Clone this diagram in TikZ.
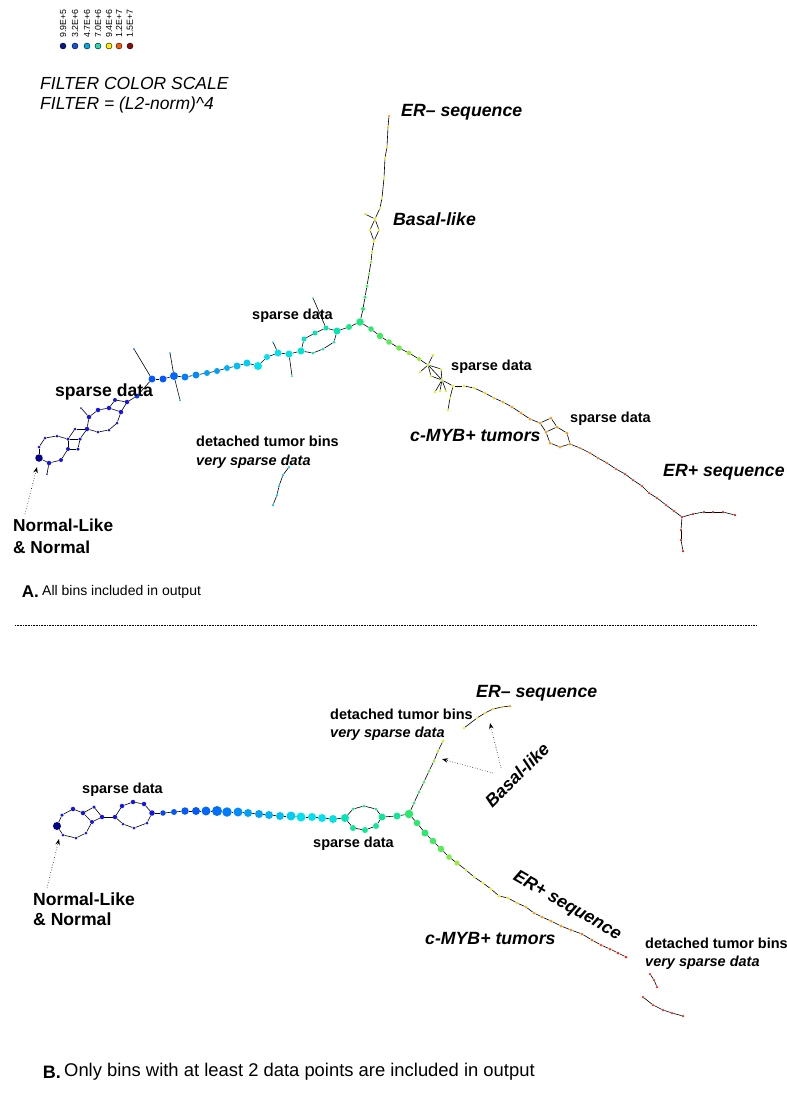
\documentclass[tikz,border=0pt]{standalone}
\usepackage{fontspec}
\setmainfont{Liberation Sans}
\usetikzlibrary{arrows.meta,positioning}

% colour scale (jet-like)
\definecolor{key1}{RGB}{10,20,140}
\definecolor{key2}{RGB}{20,80,230}
\definecolor{key3}{RGB}{0,170,230}
\definecolor{key4}{RGB}{40,220,170}
\definecolor{key5}{RGB}{255,240,0}
\definecolor{key6}{RGB}{250,90,10}
\definecolor{key7}{RGB}{140,10,10}
\definecolor{cdark}{RGB}{0,0,140}
\definecolor{cblue}{RGB}{20,20,235}
\definecolor{cazure}{RGB}{0,90,255}
\definecolor{csky}{RGB}{0,160,250}
\definecolor{ccyan}{RGB}{0,225,240}
\definecolor{cturq}{RGB}{0,230,180}
\definecolor{cgreen}{RGB}{40,235,110}
\definecolor{clime}{RGB}{150,240,40}
\definecolor{cyel}{RGB}{240,240,0}
\definecolor{corange}{RGB}{255,150,0}
\definecolor{cred}{RGB}{240,40,20}
\definecolor{cmaroon}{RGB}{150,10,10}

\pgfdeclarelayer{edges}
\pgfsetlayers{edges,main}

\begin{document}
\begin{tikzpicture}[x=1pt, y=-1pt,
    bin/.style={circle, inner sep=0pt, minimum size=#1pt},
    bin/.default=3,
    key/.style={circle, draw=black, line width=0.4pt, inner sep=0pt, minimum size=6pt},
    edge/.style={line width=0.6pt, black},
    pointer/.style={dotted, line width=0.6pt, -{Stealth[length=6pt, width=4.5pt]}},
    lbl/.style={font=\fontsize{14.5}{18}\selectfont\bfseries, inner sep=0pt, anchor=west},
    biglbl/.style={font=\fontsize{17.5}{21}\selectfont\bfseries, inner sep=0pt, anchor=west},
    tag/.style={font=\fontsize{17.7}{21}\selectfont\bfseries\itshape, inner sep=0pt, anchor=west},
    caption/.style={font=\fontsize{14}{17}\selectfont, inner sep=0pt, anchor=west}
]
\useasboundingbox (0,0) rectangle (787,1101);

% Legend: filter colour scale
\foreach \px/\cl/\val [count=\i] in {63/key1/9.9E+5, 75/key2/3.2E+6, 87/key3/4.7E+6, 98/key4/7.0E+6, 109/key5/9.4E+6, 119/key6/1.2E+7, 130/key7/1.5E+7}{
  \node[key, fill=\cl] (k\i) at (\px,46) {};
  \node[rotate=90, anchor=west, inner sep=0pt, font=\fontsize{8.8}{10}\selectfont] (v\i) at (\px,38) {\val};
}
\node[font=\fontsize{17.5}{20}\selectfont\itshape, align=left, anchor=west, inner sep=0pt] (title) at (40,95)
  {FILTER COLOR SCALE\\FILTER = (L2-norm)\textasciicircum 4};

% ================= Panel A =================
% ER- branch (top to junction)
\foreach \px/\py/\sz/\cl [count=\i] in {389/116/2.5/corange, 388/127/2.5/corange!50!cyel, 387/147/2.5/cyel!70!corange,
    385/158/2.5/cyel, 384/178/2.5/cyel, 382/198/2.5/cyel, 380/208/2.5/cyel, 375/219/3/cyel, 374/241/3/cyel,
    372/252/3/cyel!60!clime, 371/262/3/clime, 369/274/3/clime!60!cgreen, 367/286/3.5/cgreen!70!clime,
    365/297/3.5/cgreen, 363/309/4/cgreen}
  \node[bin=\sz, fill=\cl] (ea\i) at (\px,\py) {};
\node[bin=2.5, fill=cyel] (eas) at (365,214) {};
\node[bin=2.5, fill=cyel] (eal) at (370,230) {};
\node[bin=2.5, fill=cyel] (ear) at (379,230) {};
\node[bin=7.5, fill=cgreen!70!cturq] (ja) at (360,322) {};

% left arm (junction to Normal-like)
\foreach \px/\py/\sz/\cl [count=\i] in {349/327/6/cgreen!60!cturq, 337/331/7/cturq, 326/328/5/cturq, 315/333/5/cturq,
    304/339/5/cturq!70!ccyan, 301/351/7/cturq!50!ccyan, 289/354/7/ccyan!80!cturq, 278/353/7/ccyan, 267/357/6/ccyan,
    258/366/8/ccyan, 247/363/7/ccyan!70!csky, 237/366/7/ccyan!50!csky, 227/368/6/csky!70!ccyan, 217/371/6/csky,
    207/373/6/csky, 196/375/7/csky!70!cazure, 185/377/7/csky!50!cazure, 174/376/8/cazure!80!csky, 163/379/7/cazure,
    152/379/7/cazure, 137/396/5/cazure!60!cblue, 127/402/4.5/cblue, 121/412/4.5/cblue}
  \node[bin=\sz, fill=\cl] (la\i) at (\px,\py) {};
\foreach \nm/\px/\py/\sz/\cl in {lo1/334/342/3/cturq, lo2/323/349/3/cturq, lo3/313/353/3/cturq,
    s1/313/298/2/cturq, s2/292/376/2/ccyan, s3/273/342/2/ccyan, s4/170/353/2/csky, s5/180/400/2/csky, s6/134/349/2/cazure,
    q1/115/400/4/cblue, q4/109/408/4.5/cblue, u1/98/410/4.5/cblue, u2/89/417/4.5/cblue, u2s/81/408/2/cblue,
    u3/87/429/4.5/cblue, u4/98/432/3/cblue, u5/109/430/3/cblue, u6/117/423/3/cblue,
    v1/75/429/3/cblue, sa/68/439/3.5/cblue, sb/80/439/3.5/cblue, sc/78/449/3.5/cblue, sd/68/449/4/cblue,
    w1/57/436/3/cblue, w2/45/438/3/cblue, w3/39/447/3/cblue, na/39/458/7.5/cdark, w4/49/463/4.5/cblue,
    w5/61/460/4/cblue, w4s/47/474/2/cblue}
  \node[bin=\sz, fill=\cl] (\nm) at (\px,\py) {};

% right arm (junction to ER+)
\foreach \px/\py/\sz/\cl [count=\i] in {371/329/5.5/cgreen, 380/336/6.5/cgreen!80!clime, 389/342/5.5/cgreen!60!clime,
    399/348/5.5/cgreen!40!clime, 409/353/4.5/clime, 419/359/4/clime, 428/365/3/clime!60!cyel, 442/380/3/cyel!70!clime,
    453/386/3/cyel, 464/386/3/cyel, 474/388/3/cyel, 485/393/3/cyel!70!corange, 494/398/3/cyel!50!corange,
    503/402/3/corange!70!cyel, 512/407/3/corange, 521/413/3/corange, 530/419/3/corange}
  \node[bin=\sz, fill=\cl] (ra\i) at (\px,\py) {};
\foreach \nm/\px/\py in {rdl/431/376, rdr/441/369, rx1/433/355, rx2/420/372, rx3/435/392, rx4/440/391, rx5/446/391,
    rs1/450/398, rs2/448/410}
  \node[bin=2.5, fill=cyel!80!clime] (\nm) at (\px,\py) {};
\foreach \nm/\px/\py in {h1/540/423, h2/551/418, h3/557/427, h4/546/432, h5/550/443, h6/560/447, h7/570/444, h8/567/433}
  \node[bin=3, fill=corange] (\nm) at (\px,\py) {};
\foreach \px/\py/\cl [count=\i] in {580/448/corange!70!cred, 590/453/corange!60!cred, 598/458/corange!50!cred,
    607/463/cred!60!corange, 616/469/cred!70!corange, 625/474/cred, 633/480/cred, 642/486/cred, 649/493/cred,
    657/498/cred, 666/505/cred, 674/511/cred, 682/517/cred!70!cmaroon}
  \node[bin=2.5, fill=\cl] (ta\i) at (\px,\py) {};
\foreach \nm/\px/\py in {k1/693/514, k2/704/512, k3/713/512, k4/723/512, k5/735/515, m1/681/530, m2/681/540, m3/683/551}
  \node[bin=2.5, fill=cred!60!cmaroon] (\nm) at (\px,\py) {};

% detached tumor bins
\foreach \px/\py [count=\i] in {289/467, 283/475, 279/486, 277/495, 273/505}
  \node[bin=2.5, fill=csky!50!ccyan] (da\i) at (\px,\py) {};

% connectors A
\begin{pgfonlayer}{edges}
\foreach \i in {1,2,3,4,5,6,7,9,10,11,12,13,14}{
  \pgfmathtruncatemacro{\j}{\i+1}
  \draw[edge] (ea\i) -- (ea\j);
}
\foreach \i in {1,...,22}{
  \pgfmathtruncatemacro{\j}{\i+1}
  \draw[edge] (la\i) -- (la\j);
}
\foreach \i in {1,...,16}{
  \pgfmathtruncatemacro{\j}{\i+1}
  \draw[edge] (ra\i) -- (ra\j);
}
\foreach \i in {1,...,12}{
  \pgfmathtruncatemacro{\j}{\i+1}
  \draw[edge] (ta\i) -- (ta\j);
}
\foreach \i in {1,...,4}{
  \pgfmathtruncatemacro{\j}{\i+1}
  \draw[edge] (da\i) -- (da\j);
}
\foreach \a/\b in {ea8/eas, ea8/eal, eal/ea9, ea8/ear, ear/ea9, ea15/ja, ja/la1, ja/ra1,
    la2/lo1, lo1/lo2, lo2/lo3, lo3/la6, la3/s1, la7/s2, la8/s3, la18/s4, la18/s5, la20/s6,
    la22/q1, q1/q4, la23/q4, q4/u1, u1/u2, u2/u3, u3/u4, u4/u5, u5/u6, u6/la23, u2/u2s,
    u3/v1, v1/sa, u3/sb, sa/sb, sb/sc, sc/sd, sd/sa, sa/w1, w1/w2, w2/w3, w3/na, na/w4, w4/w5, w5/sd, w4/w4s,
    ra7/rdl, rdl/ra8, ra7/rdr, rdr/ra8, ra7/rx1, ra7/rx2, ra8/rx3, ra8/rx4, ra8/rx5, ra9/rs1, rs1/rs2,
    ra17/h1, h1/h2, h2/h3, h3/h4, h4/h1, h4/h5, h5/h6, h6/h7, h7/h8, h8/h3, h7/ta1,
    ta13/k1, k1/k2, k2/k3, k3/k4, k4/k5, ta13/m1, m1/m2, m2/m3}
  \draw[edge] (\a) -- (\b);
\end{pgfonlayer}

% labels A
\node[tag] (erminA) at (401,112) {ER– sequence};
\node[tag] (basalA) at (393,219) {Basal-like};
\node[lbl] (sparseA1) at (252,316) {sparse data};
\node[biglbl, font=\fontsize{17.6}{21}\selectfont\bfseries] (sparseA2) at (55,392) {sparse data};
\node[lbl, align=left, font=\fontsize{14.5}{19}\selectfont\bfseries] (detA) at (196,452.5)
  {detached tumor bins\\\itshape very sparse data};
\node[biglbl, align=left, font=\fontsize{17.3}{22}\selectfont\bfseries] (normA) at (13,536) {Normal-Like\\\& Normal};
\node[lbl] (sparseA3) at (451,367) {sparse data};
\node[lbl] (sparseA4) at (570,419) {sparse data};
\node[tag] (mybA) at (410,435) {c-MYB+ tumors};
\node[tag] (erplA) at (663,472) {ER+ sequence};
\coordinate (normAt) at (25,514);
\coordinate (normAh) at (37,467);
\draw[pointer] (normAt) -- (normAh);

\node[caption] (capA) at (42,592) {All bins included in output};
\node[inner sep=0pt, anchor=east, font=\fontsize{17}{20}\selectfont\bfseries] (capAl) at (capA.west) {A.\,};

% separator
\coordinate (sepL) at (15,625);
\coordinate (sepR) at (757,625);
\draw[line width=0.8pt, dash pattern=on 0.8pt off 0.8pt] (sepL) -- (sepR);

% ================= Panel B =================
\node[bin=8, fill=cdark] (nb) at (57,826) {};
\foreach \nm/\px/\py/\sz in {p1/62/815/3.5, p2/73/809/4.5, p3/83/813/4.5, p4/92/822/4, p5/86/833/3, p6/76/838/3,
    p7/63/835/3, p8/94/807/3.5, p9/102/817/4.5, bl/115/817/4.5, r1/122/806/4.5, r2/133/802/4.5, r3/144/804/4.5,
    br/152/813/5.5, r4/147/823/3, r5/134/828/3, r6/123/824/3}
  \node[bin=\sz, fill=cblue] (\nm) at (\px,\py) {};

% main chain
\foreach \px/\py/\sz/\cl [count=\i] in {163/813/5.5/cazure!70!cblue, 174/812/6/cazure, 185/811/7.5/cazure,
    196/811/8/cazure, 206/811/9/cazure!80!csky, 217/811/10/cazure!70!csky, 227/812/9.5/cazure!50!csky,
    238/812/9/csky!70!cazure, 248/813/8/csky, 259/814/8/csky, 269/815/8/csky!70!ccyan, 280/816/8/csky!50!ccyan,
    291/816/9/ccyan!70!csky, 301/817/9/ccyan, 312/817/8/ccyan, 322/818/8/ccyan, 333/819/8/ccyan!70!cturq,
    345/818/8/cturq}
  \node[bin=\sz, fill=\cl] (cb\i) at (\px,\py) {};
\foreach \nm/\px/\py/\sz in {o1/353/809/3, o2/364/806/3, o3/376/809/3, lr/382/817/7, o4/376/826/6,
    o5/365/830/6, o6/353/828/6, g1/397/816/7}
  \node[bin=\sz, fill=cturq!60!cgreen] (\nm) at (\px,\py) {};
\node[bin=8.5, fill=cgreen] (jb) at (409,814) {};

% upper arm
\foreach \px/\py/\cl [count=\i] in {414/803/cgreen, 419/792/cgreen, 424/782/cgreen!70!clime, 429/771/cgreen!50!clime,
    434/761/clime, 438/751/clime!70!cyel, 443/741/cyel!80!clime}
  \node[bin=3, fill=\cl] (ub\i) at (\px,\py) {};
\foreach \px/\py/\cl [count=\i] in {464/728/cyel, 477/718/cyel, 485/713/cyel!70!corange, 493/709/cyel!60!corange,
    502/707/corange!70!cyel, 510/706/corange}
  \node[bin=2.5, fill=\cl] (er\i) at (\px,\py) {};

% lower arm
\foreach \px/\py/\sz/\cl [count=\i] in {417/823/6.5/cgreen, 425/833/7/cgreen, 433/841/6.5/cgreen!80!clime,
    441/849/6.5/cgreen!60!clime, 449/857/5.5/clime!70!cgreen, 457/863/5/clime, 466/870/3/clime!60!cyel,
    474/877/3/cyel!70!clime, 483/883/3/cyel, 491/889/3/cyel, 499/896/3/cyel, 508/898/3/cyel!80!corange,
    517/903/3/cyel!60!corange, 526/907/3/corange!70!cyel, 534/913/3/corange, 542/917/3/corange,
    551/921/3/corange, 561/926/3/corange, 571/930/3/corange!80!cred, 582/934/3/corange!70!cred,
    592/940/3/corange!60!cred, 601/945/3/cred!60!corange, 610/949/3/cred!70!corange, 618/953/3/cred, 626/957/3/cred}
  \node[bin=\sz, fill=\cl] (db\i) at (\px,\py) {};
\foreach \px/\py [count=\i] in {650/974, 654/980, 657/987, 643/997, 653/1005, 663/1010, 672/1013, 683/1016}
  \node[bin=2.5, fill=cred] (dd\i) at (\px,\py) {};

% connectors B
\begin{pgfonlayer}{edges}
\foreach \i in {1,...,17}{
  \pgfmathtruncatemacro{\j}{\i+1}
  \draw[edge] (cb\i) -- (cb\j);
}
\foreach \i in {1,...,6}{
  \pgfmathtruncatemacro{\j}{\i+1}
  \draw[edge] (ub\i) -- (ub\j);
}
\foreach \i in {1,...,5}{
  \pgfmathtruncatemacro{\j}{\i+1}
  \draw[edge] (er\i) -- (er\j);
}
\foreach \i in {1,...,24}{
  \pgfmathtruncatemacro{\j}{\i+1}
  \draw[edge] (db\i) -- (db\j);
}
\foreach \i in {1,2,4,5,6,7}{
  \pgfmathtruncatemacro{\j}{\i+1}
  \draw[edge] (dd\i) -- (dd\j);
}
\foreach \a/\b in {nb/p1, p1/p2, p2/p3, p3/p4, p4/p5, p5/p6, p6/p7, p7/nb, p3/p8, p8/p9, p9/p4, p9/bl,
    bl/r1, r1/r2, r2/r3, r3/br, br/r4, r4/r5, r5/r6, r6/bl, br/cb1,
    cb18/o1, o1/o2, o2/o3, o3/lr, lr/o4, o4/o5, o5/o6, o6/cb18, lr/g1, g1/jb, jb/ub1, jb/db1}
  \draw[edge] (\a) -- (\b);
\end{pgfonlayer}

% labels B
\node[lbl] (sparseB1) at (82,790) {sparse data};
\node[lbl] (sparseB2) at (313,844) {sparse data};
\node[biglbl, align=left, font=\fontsize{17.6}{20}\selectfont\bfseries] (normB) at (33,909) {Normal-Like\\\& Normal};
\node[lbl, align=left, font=\fontsize{14.5}{18}\selectfont\bfseries] (detB1) at (330,725)
  {detached tumor bins\\\itshape very sparse data};
\node[tag] (erminB) at (476,693) {ER– sequence};
\node[tag, anchor=center, rotate=45] (basalB) at (517,775) {Basal-like};
\node[tag, anchor=center, rotate=-30] (erplB) at (567,906) {ER+ sequence};
\node[tag] (mybB) at (425,938) {c-MYB+ tumors};
\node[lbl, align=left, font=\fontsize{14.5}{18}\selectfont\bfseries] (detB2) at (645,954)
  {detached tumor bins\\\itshape very sparse data};
\coordinate (normBt) at (47,888);
\coordinate (normBh) at (59,839);
\draw[pointer] (normBt) -- (normBh);
\coordinate (basT1) at (493,773);
\coordinate (basH1) at (442,759);
\coordinate (basT2) at (501,768);
\coordinate (basH2) at (490,723);
\draw[pointer] (basT1) -- (basH1);
\draw[pointer] (basT2) -- (basH2);

\node[caption, font=\fontsize{18.4}{21}\selectfont] (capB) at (64,1072) {Only bins with at least 2 data points are included in output};
\node[inner sep=0pt, anchor=east, font=\fontsize{18}{21}\selectfont\bfseries] (capBl) at (capB.west) {B.\,};

\end{tikzpicture}
\end{document}
